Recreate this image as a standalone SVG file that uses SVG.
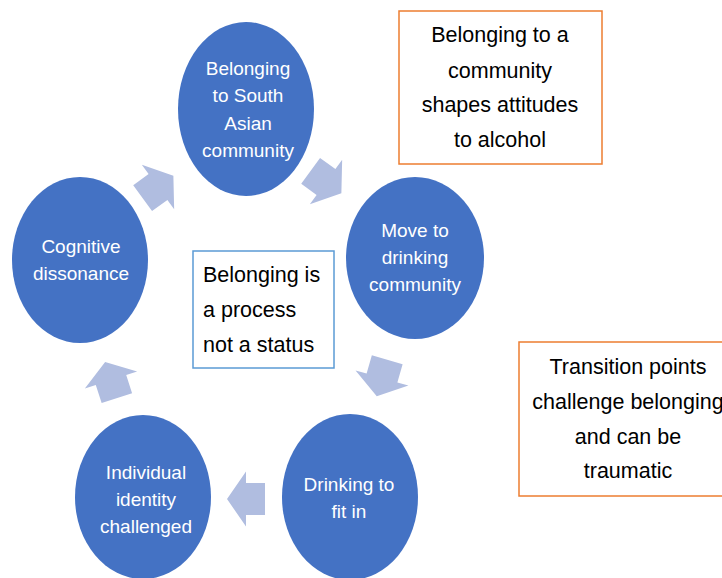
<svg xmlns="http://www.w3.org/2000/svg" width="722" height="578" viewBox="0 0 722 578">
<defs>
<style>
.node{fill:#4472C4;}
.nt{fill:#FFFFFF;font-family:"Liberation Sans",Arial,sans-serif;font-size:19px;text-anchor:middle;}
.arr{fill:#B0BDE0;}
.bt{fill:#000000;font-family:"Liberation Sans",Arial,sans-serif;font-size:21.5px;}
.ob{fill:#FFFFFF;stroke:#ED7D31;stroke-width:1.5;}
.cb{fill:#FFFFFF;stroke:#5B9BD5;stroke-width:1.5;}
</style>
<polygon id="blk" points="-19,-16 0,-16 0,-27.5 19,0 0,27.5 0,16 -19,16"/>
</defs>
<rect width="722" height="578" fill="#FFFFFF"/>
<g id="connectors">
<use href="#blk" class="arr" transform="translate(158,187) rotate(-36)"/>
<use href="#blk" class="arr" transform="translate(326,182) rotate(36)"/>
<use href="#blk" class="arr" transform="translate(382,378) rotate(106)"/>
<use href="#blk" class="arr" transform="translate(246,499) rotate(180)"/>
<use href="#blk" class="arr" transform="translate(111,380) rotate(-108)"/>
</g>
<g id="node-belonging">
<ellipse class="node" cx="246" cy="109" rx="68" ry="87"/>
<text class="nt"><tspan x="248" y="75">Belonging</tspan><tspan x="248" y="102">to South</tspan><tspan x="248" y="130">Asian</tspan><tspan x="248" y="157">community</tspan></text>
</g>
<g id="node-move">
<ellipse class="node" cx="415" cy="258" rx="69" ry="81"/>
<text class="nt"><tspan x="415" y="237">Move to</tspan><tspan x="415" y="264">drinking</tspan><tspan x="415" y="291">community</tspan></text>
</g>
<g id="node-drinking">
<ellipse class="node" cx="350" cy="497" rx="68" ry="83"/>
<text class="nt"><tspan x="349" y="491">Drinking to</tspan><tspan x="349" y="518">fit in</tspan></text>
</g>
<g id="node-identity">
<ellipse class="node" cx="143" cy="497" rx="68" ry="82"/>
<text class="nt"><tspan x="146" y="479">Individual</tspan><tspan x="146" y="506">identity</tspan><tspan x="146" y="533">challenged</tspan></text>
</g>
<g id="node-cognitive">
<ellipse class="node" cx="80" cy="260" rx="68" ry="83"/>
<text class="nt"><tspan x="81" y="253">Cognitive</tspan><tspan x="81" y="280">dissonance</tspan></text>
</g>
<g id="box-process">
<rect class="cb" x="193" y="251" width="141" height="117"/>
<text class="bt"><tspan x="203" y="282">Belonging is</tspan><tspan x="203" y="317">a process</tspan><tspan x="203" y="352">not a status</tspan></text>
</g>
<g id="box-community">
<rect class="ob" x="399" y="11" width="203" height="153"/>
<text class="bt" text-anchor="middle"><tspan x="500" y="42">Belonging to a</tspan><tspan x="500" y="78">community</tspan><tspan x="500" y="112">shapes attitudes</tspan><tspan x="500" y="147">to alcohol</tspan></text>
</g>
<g id="box-transition">
<rect class="ob" x="519" y="342" width="220" height="154"/>
<text class="bt" text-anchor="middle"><tspan x="628" y="374">Transition points</tspan><tspan x="628" y="409">challenge belonging</tspan><tspan x="628" y="444">and can be</tspan><tspan x="628" y="478">traumatic</tspan></text>
</g>
</svg>
